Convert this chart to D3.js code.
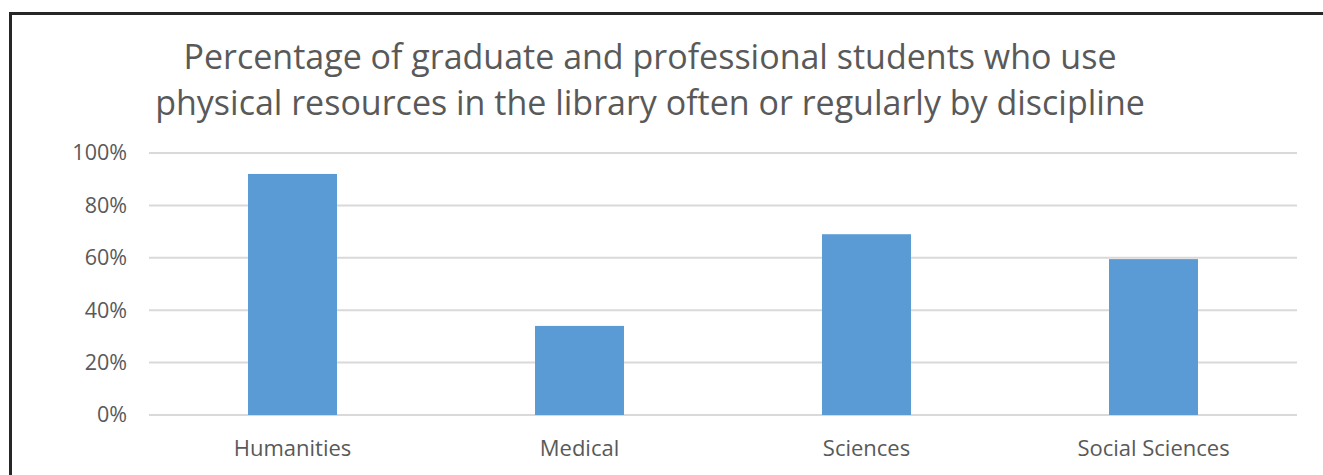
<!DOCTYPE html>
<html>
<head>
    <title>library use by discipline</title>
    <meta charset="utf-8">
    <script src="https://d3js.org/d3.v7.min.js"></script>
</head>
<style type="text/css">
    html, body {
        margin: 0;
        background: #fff;
        font-family: "Open Sans", sans-serif;
    }
</style>
<body>
<svg id="chart" width="1323" height="475"></svg>
<script>
    "use strict";

    const categories = ["Humanities", "Medical", "Sciences", "Social Sciences"];
    const values = [0.92, 0.34, 0.69, 0.595];
    const yTicks = [0, 0.2, 0.4, 0.6, 0.8, 1.0];
    const titleLines = [
        "Percentage of graduate and professional students who use",
        "physical resources in the library often or regularly by discipline"
    ];

    const svg = d3.select("#chart"),
        width = 1323,
        height = 475,
        margin = {left: 149, right: 26, top: 153, bottom: 60},
        textColor = "#595959";

    // frame around the chart area
    svg.append("rect")
        .attr("x", 10.5)
        .attr("y", 13.5)
        .attr("width", width + 20)
        .attr("height", height + 20)
        .attr("fill", "#fff")
        .attr("stroke", "#262626")
        .attr("stroke-width", 3);

    const x = d3.scaleBand()
        .domain(categories)
        .range([margin.left, width - margin.right])
        .paddingInner(0.69)
        .paddingOuter(0.345);

    const y = d3.scaleLinear()
        .domain([0, 1])
        .range([height - margin.bottom, margin.top]);

    // gridlines
    svg.append("g")
        .selectAll("line")
        .data(yTicks)
        .join("line")
        .attr("x1", margin.left)
        .attr("x2", width - margin.right)
        .attr("y1", d => y(d))
        .attr("y2", d => y(d))
        .attr("stroke", "#d9d9d9")
        .attr("stroke-width", 2);

    // y axis labels
    const yAxis = d3.axisLeft(y)
        .tickValues(yTicks)
        .tickFormat(d3.format(".0%"))
        .tickSize(0)
        .tickPadding(22);
    const yG = svg.append("g")
        .attr("transform", `translate(${margin.left},0)`)
        .call(yAxis);
    yG.select(".domain").remove();
    yG.selectAll("text")
        .attr("fill", textColor)
        .style("font-family", "Open Sans")
        .style("font-size", "21.5px");

    // bars
    svg.append("g")
        .selectAll("rect")
        .data(values)
        .join("rect")
        .attr("x", (d, i) => x(categories[i]))
        .attr("y", d => y(d))
        .attr("width", x.bandwidth())
        .attr("height", d => y(0) - y(d))
        .attr("fill", "#5b9bd5");

    // x axis labels
    const xAxis = d3.axisBottom(x).tickSize(0).tickPadding(25);
    const xG = svg.append("g")
        .attr("transform", `translate(0,${y(0)})`)
        .call(xAxis);
    xG.select(".domain").remove();
    xG.selectAll("text")
        .attr("fill", textColor)
        .style("font-family", "Open Sans")
        .style("font-size", "22px");

    // title (two lines)
    svg.append("g")
        .selectAll("text")
        .data(titleLines)
        .join("text")
        .attr("x", 650)
        .attr("y", (d, i) => 69 + i * 46)
        .attr("text-anchor", "middle")
        .attr("fill", textColor)
        .style("font-family", "Open Sans")
        .style("font-size", "34px")
        .text(d => d);
</script>
</body>
</html>
